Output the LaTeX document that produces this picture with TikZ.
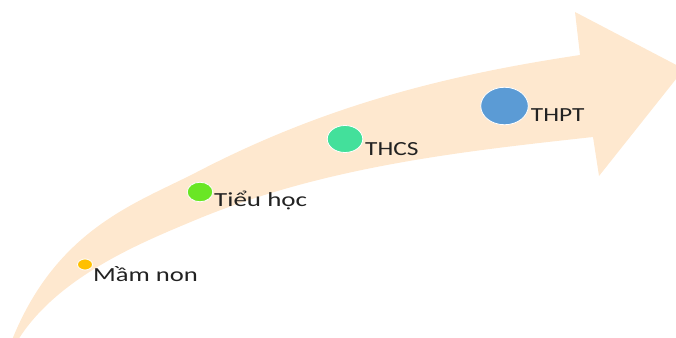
\documentclass[tikz,border=0pt]{standalone}
\usepackage{fontspec}
\setmainfont{Carlito}
\usetikzlibrary{shapes.geometric}
\definecolor{peach}{RGB}{254,232,207}
\definecolor{cmamnon}{RGB}{255,192,0}
\definecolor{ctieuhoc}{RGB}{106,230,36}
\definecolor{cthcs}{RGB}{67,224,155}
\definecolor{cthpt}{RGB}{91,155,213}
\definecolor{textgray}{RGB}{34,34,34}
\begin{document}
\begin{tikzpicture}[x=1pt,y=-1pt,
  dot/.style={ellipse, draw=white, line width=0.8pt, inner sep=0pt},
  lbl/.style={anchor=base west, inner sep=0pt, text=textgray, font=\fontsize{20}{24}\selectfont}]
\useasboundingbox (0,0) rectangle (676,337);
\clip (0,0) rectangle (676,337);
% curved arrow
\fill[peach] (12,340) .. controls (57,228) and (137,203) .. (197,172)
  .. controls (327,104.4) and (450,74.5) .. (580,55)
  -- (575,12) -- (684,69) -- (599,176) -- (593,137)
  .. controls (463,151.3) and (323,166.4) .. (193,221)
  .. controls (143,242) and (58,276) .. (18,340)
  -- cycle;
% dots
\node[dot, fill=cmamnon, minimum width=15pt, minimum height=11pt] (d1) at (85,264.5) {};
\node[dot, fill=ctieuhoc, minimum width=25.5pt, minimum height=19.5pt] (d2) at (200,192) {};
\node[dot, fill=cthcs, minimum width=35.5pt, minimum height=27pt] (d3) at (345,139) {};
\node[dot, fill=cthpt, minimum width=47.5pt, minimum height=37.5pt] (d4) at (504.5,106) {};
% labels
\node[lbl] (t1) at (93,281.7) {\scalebox{1.33}[1]{Mầm non}};
\node[lbl] (t2) at (214,206.7) {\scalebox{1.35}[1]{Tiểu học}};
\node[lbl] (t3) at (365,155) {\scalebox{1.27}[1]{THCS}};
\node[lbl] (t4) at (530.7,121.7) {\scalebox{1.27}[1]{THPT}};
\end{tikzpicture}
\end{document}
